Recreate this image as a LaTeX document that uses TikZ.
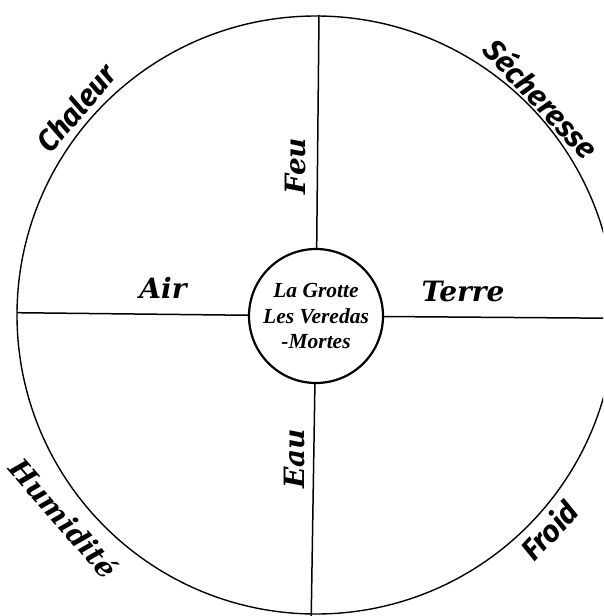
\documentclass[tikz,border=0pt]{standalone}
\usepackage{fontspec}
\setmainfont{Liberation Serif}
\newfontfamily\elemfont{DejaVu Serif}
\newfontfamily\qualfont{Fira Sans}
\begin{document}
\begin{tikzpicture}[x=1pt,y=1pt,
  elem/.style={font=\elemfont\bfseries\itshape\fontsize{28}{33}\selectfont, inner sep=0pt},
  qual/.style={font=\qualfont\bfseries\itshape\fontsize{30}{36}\selectfont, inner sep=0pt},
  grotte/.style={draw, circle, line width=2.2pt, minimum size=134pt, inner sep=0pt, align=center,
    font=\bfseries\itshape\fontsize{21.5}{25.5}\selectfont},
  rim/.style={line width=1.4pt},
  spoke/.style={line width=1.5pt}]
\useasboundingbox (0,0) rectangle (603,-616);
\clip (0,0) rectangle (603,-616);
\fill[white] (0,0) rectangle (603,-616);
\draw[rim] (316,-315) circle (299);
\node[grotte] (g) at (316,-316) {La Grotte\\Les Veredas\\-Mortes};
\coordinate (N) at (319,-15);
\coordinate (S) at (311,-630);
\coordinate (W) at (17,-312.7);
\coordinate (E) at (620,-318.3);
\draw[spoke] (N) -- (g);
\draw[spoke] (S) -- (g);
\draw[spoke] (W) -- (g);
\draw[spoke] (E) -- (g);
\node[elem] (air) at (163,-288) {Air};
\node[elem] (terre) at (463,-291) {Terre};
\node[elem, rotate=90] (feu) at (295,-166) {Feu};
\node[elem, rotate=90] (eau) at (294,-459) {Eau};
\node[elem, rotate=-49] (hum) at (64,-518) {Humidité};
\node[qual, rotate=49] (chal) at (76,-108) {Chaleur};
\node[qual, rotate=-47] (sech) at (542,-98) {Sécheresse};
\node[qual, rotate=47] (froid) at (549,-530) {Froid};
\end{tikzpicture}
\end{document}
